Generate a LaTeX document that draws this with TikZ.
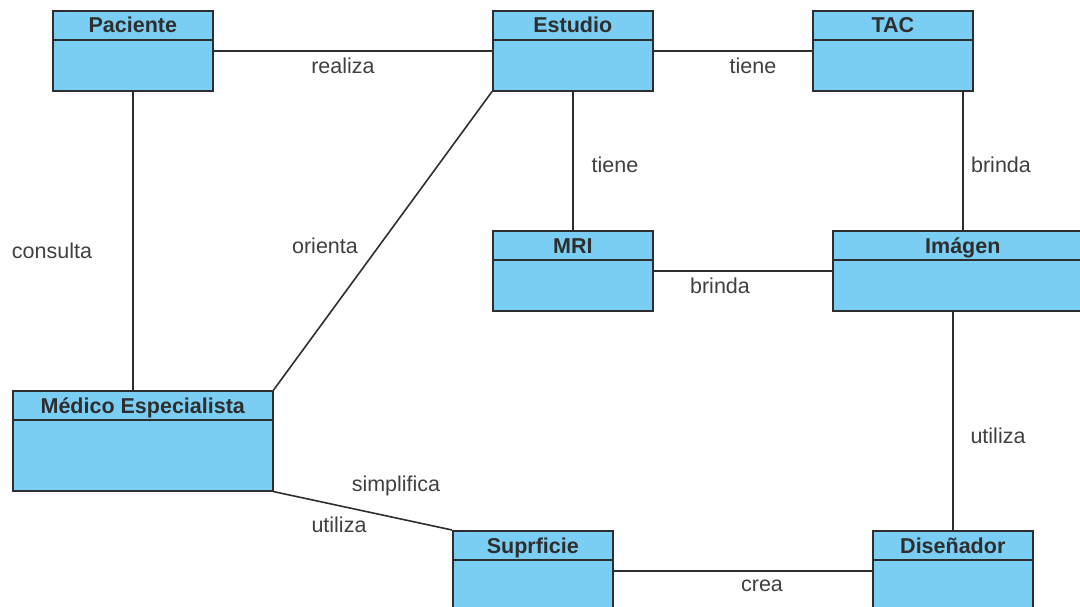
\documentclass[tikz,border=0pt]{standalone}
\usepackage{fontspec}
\setmainfont{Liberation Sans}
\definecolor{boxfill}{HTML}{7ACEF3}
\definecolor{boxline}{HTML}{2E2E2E}
\definecolor{lbl}{HTML}{404040}
\tikzset{
  umlbox/.style={draw=boxline, fill=boxfill, line width=1.6pt, inner sep=0pt, anchor=north west},
  umltitle/.style={font=\bfseries\fontsize{21.5}{24}\selectfont, text=boxline, inner sep=0pt, anchor=base},
  conn/.style={draw=boxline, line width=1.6pt},
  lab/.style={font=\fontsize{21.5}{24}\selectfont, text=lbl, inner sep=0pt}
}
\newcommand{\umlclass}[6]{%
  \node[umlbox, minimum width=#4pt, minimum height=#5pt] (#1) at (#2,#3) {};
  \draw[boxline, line width=1.6pt] ([yshift=-30pt]#1.north west) -- ([yshift=-30pt]#1.north east);
  \node[umltitle] (#1-t) at ([yshift=-23pt]#1.north) {#6};
}
\begin{document}
\begin{tikzpicture}[x=1pt,y=-1pt]
\useasboundingbox (0,0) rectangle (1080,607);
\umlclass{pac}{52}{10}{160}{80}{Paciente}
\umlclass{est}{492}{10}{160}{80}{Estudio}
\umlclass{tac}{812}{10}{160}{80}{TAC}
\umlclass{mri}{492}{230}{160}{80}{MRI}
\umlclass{img}{832}{230}{260}{80}{Imágen}
\umlclass{med}{12}{390}{260}{100}{Médico Especialista}
\umlclass{sup}{452}{530}{160}{80}{Suprficie}
\umlclass{dis}{872}{530}{160}{80}{Diseñador}
% connectors
\draw[conn] (pac.east) -- (est.west);
\draw[conn] (est.east) -- (tac.west);
\draw[conn] (est.south) -- (mri.north);
\draw[conn] (img.north) -- (img.north |- tac.south);
\draw[conn] (mri.east) -- (img.west);
\draw[conn] (pac.south) -- (pac.south |- med.north);
\draw[conn] (est.south west) -- (med.north east);
\draw[conn] (dis.north) -- (dis.north |- img.south);
\draw[conn] (med.south east) -- (sup.north west);
\draw[conn] (sup.east) -- (dis.west);
% labels
\node[lab] (l1) at (343,66) {realiza};
\node[lab] (l2) at (753,66) {tiene};
\node[lab] (l3) at (615,165) {tiene};
\node[lab] (l4) at (1001,165) {brinda};
\node[lab] (l5) at (720,286) {brinda};
\node[lab] (l6) at (52,251) {consulta};
\node[lab] (l7) at (325,246) {orienta};
\node[lab] (l8) at (998,436) {utiliza};
\node[lab] (l9) at (396,486) {simplifica};
\node[lab] (l10) at (339,525) {utiliza};
\node[lab] (l11) at (762,586) {crea};
\end{tikzpicture}
\end{document}
